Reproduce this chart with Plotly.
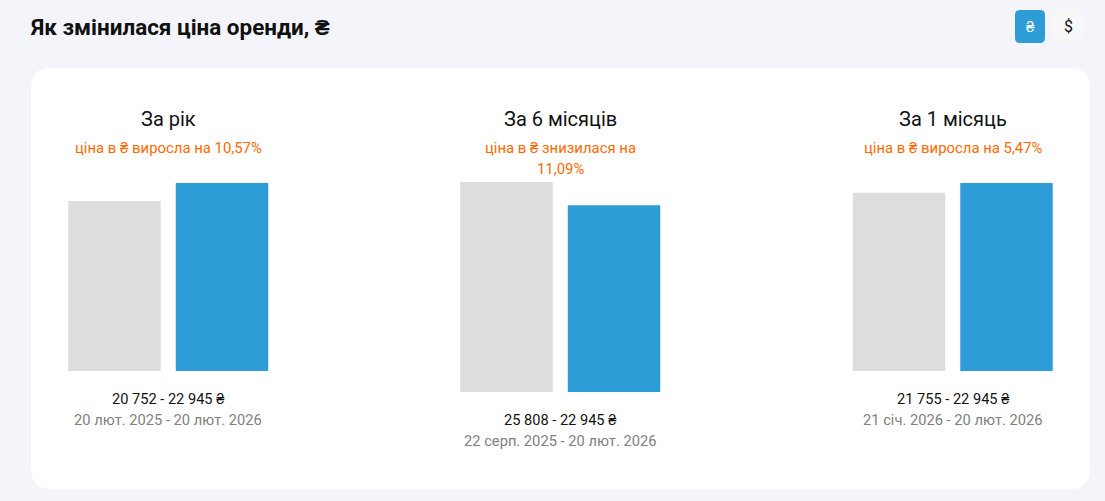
import plotly.graph_objects as go

W, H = 1105, 501

# values
periods = ['За рік', 'За 6 місяців', 'За 1 місяць']
changes = [['ціна в ₴ виросла на 10,57%'],
           ['ціна в ₴ знизилася на', '11,09%'],
           ['ціна в ₴ виросла на 5,47%']]
old_prices = [20752, 25808, 21755]
new_prices = [22945, 22945, 22945]
price_labels = ['20 752 - 22 945 ₴', '25 808 - 22 945 ₴', '21 755 - 22 945 ₴']
date_labels = ['20 лют. 2025 - 20 лют. 2026',
               '22 серп. 2025 - 20 лют. 2026',
               '21 січ. 2026 - 20 лют. 2026']

# pixel boxes of the three small charts: left, right, top, bottom
boxes = [(60.75, 275.75, 183, 371), (452.75, 667.75, 182, 392), (845.25, 1060.25, 183, 371)]
text_centres = [168, 560, 953]
GREY = '#dddddd'
BLUE = '#2d9cd7'
ORANGE = '#ff6a00'


def px(x):
    return x / W


def py(y):
    return 1 - y / H


def rounded(x0, y0, x1, y1, r):
    # rounded rectangle in paper coordinates
    pts = [f'M {px(x0 + r)} {py(y0)}', f'L {px(x1 - r)} {py(y0)}',
           f'Q {px(x1)} {py(y0)} {px(x1)} {py(y0 + r)}', f'L {px(x1)} {py(y1 - r)}',
           f'Q {px(x1)} {py(y1)} {px(x1 - r)} {py(y1)}', f'L {px(x0 + r)} {py(y1)}',
           f'Q {px(x0)} {py(y1)} {px(x0)} {py(y1 - r)}', f'L {px(x0)} {py(y0 + r)}',
           f'Q {px(x0)} {py(y0)} {px(x0 + r)} {py(y0)}', 'Z']
    return dict(type='path', xref='paper', yref='paper', path=' '.join(pts),
                line_width=0, layer='below')


def label(x, y, text, size, color, anchor='center', bold=False):
    # the hryvnia sign in the reference comes from a fallback font
    text = text.replace('₴', '<span style="font-family:\'Liberation Sans\'">₴</span>')
    if bold:
        text = f'<b>{text}</b>'
    return dict(x=px(x), y=py(y), xref='paper', yref='paper', text=text, showarrow=False,
                xanchor=anchor, yanchor='middle', borderpad=0,
                font=dict(family='Roboto', size=size, color=color))


fig = go.Figure()
annotations = [label(29, 27, 'Як змінилася ціна оренди, ₴', 22.45, '#111111', 'left', True),
               label(1030, 27, '₴', 15, 'white'),
               label(1068, 27, '$', 16, '#111111')]

for i in range(3):
    suffix = '' if i == 0 else str(i + 1)
    left, right, top, bottom = boxes[i]
    fig.add_trace(go.Bar(x=[0, 1], y=[old_prices[i], new_prices[i]],
                         marker=dict(color=[GREY, BLUE], line_width=0),
                         xaxis='x' + suffix, yaxis='y' + suffix, hoverinfo='skip'))
    fig.update_layout({
        'xaxis' + suffix: dict(domain=[px(left), px(right)], range=[-0.5, 1.5], visible=False),
        'yaxis' + suffix: dict(domain=[py(bottom), py(top)],
                               range=[0, max(old_prices[i], new_prices[i])], visible=False),
    })
    annotations.append(label(text_centres[i], 119, periods[i], 20, '#111111'))
    for n, line in enumerate(changes[i]):
        annotations.append(label(text_centres[i], 147.5 + n * 21, line, 14.9, ORANGE))
    annotations.append(label(text_centres[i], bottom + 27.5, price_labels[i], 14.6, '#111111'))
    annotations.append(label(text_centres[i], bottom + 48.5, date_labels[i], 14.7, '#808080'))

shapes = [dict(rounded(31, 68, 1090, 489, 20), fillcolor='white'),
          dict(rounded(1015, 10, 1045, 43, 5), fillcolor=BLUE),
          dict(rounded(1053, 10, 1083, 43, 5), fillcolor='#f7f7f7')]

fig.update_layout(width=W, height=H, margin=dict(l=0, r=0, t=0, b=0),
                  paper_bgcolor='#f4f5fa', plot_bgcolor='rgba(0,0,0,0)',
                  showlegend=False, bargap=0.14,
                  shapes=shapes, annotations=annotations)
fig.write_html('out.html', config={'displayModeBar': False},
               post_script="document.body.style.margin='0';document.body.style.overflow='hidden';")
